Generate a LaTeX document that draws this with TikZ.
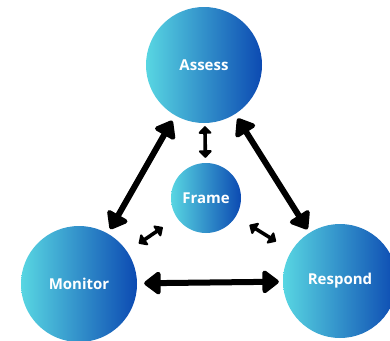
\documentclass[tikz,border=0pt]{standalone}
\usepackage{fontspec}
\setmainfont{Open Sans}
\usetikzlibrary{arrows.meta}
\definecolor{gradL}{RGB}{88,214,226}
\definecolor{gradR}{RGB}{12,74,178}
\tikzset{
  bubble/.style={circle, inner sep=0pt, minimum size=#1, left color=gradL, right color=gradR,
    text=white, font=\bfseries\fontsize{15}{17}\selectfont},
  bigarrow/.style={line width=6pt, {Triangle[round,length=18pt,width=26pt]}-{Triangle[round,length=18pt,width=26pt]}},
  smallarrow/.style={line width=3.6pt, {Triangle[round,length=8pt,width=15pt]}-{Triangle[round,length=8pt,width=15pt]}}
}
\begin{document}
\begin{tikzpicture}[x=1pt,y=-1pt]
\clip (0,0) rectangle (390,340);
\fill[white] (0,0) rectangle (390,340);
\node[bubble=116pt] (as) at (204,65) {Assess};
\node[bubble=70pt] (fr) at (206,198) {Frame};
\node[bubble=116pt] (mo) at (79,284) {Monitor};
\node[bubble=114pt] (re) at (340,281) {Respond};
\draw[bigarrow, shorten <=6pt, shorten >=5pt] (as) -- (mo);
\draw[bigarrow, shorten <=5pt, shorten >=4pt] (as) -- (re);
\draw[bigarrow, shorten <=7pt, shorten >=4pt] (mo) -- (re);
\draw[smallarrow, shorten <=3pt, shorten >=5pt] (as) -- (fr);
\draw[smallarrow, shorten <=17pt, shorten >=14pt] (fr) -- (mo);
\draw[smallarrow, shorten <=16pt, shorten >=18pt] (fr) -- (re);
\end{tikzpicture}
\end{document}
